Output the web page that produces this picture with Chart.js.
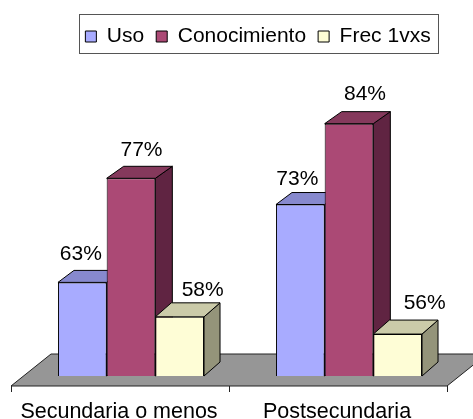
<!DOCTYPE html>
<html>
<head>
<meta charset="utf-8">
<style>
    html, body { margin: 0; padding: 0; background: #fff; }
    canvas { display: block; }
</style>
<script src="https://cdn.jsdelivr.net/npm/chart.js@4"></script>
</head>
<body>
<canvas id="chart" width="473" height="419"></canvas>
<script>
let categories = ["Secundaria o menos", "Postsecundaria"]
let uso = [63, 73.4]
let conocimiento = [76.9, 84.2]
let frec = [58.4, 56.1]

let axisMin = 50.5
let axisMax = 93.1
let fontName = '"Liberation Sans", Arial, sans-serif'
let fontSize = 21

//fake 3d faces of one bar
let drawFaces = (ctx, bar, ds) => {
    let right = bar.x + bar.width / 2
    let left = bar.x - bar.width / 2
    ctx.fillStyle = ds.sideColor
    ctx.beginPath()
    ctx.moveTo(right, bar.y)
    ctx.lineTo(right + ds.depthX, bar.y - ds.depthY)
    ctx.lineTo(right + ds.depthX, bar.base - ds.depthY)
    ctx.lineTo(right, bar.base)
    ctx.closePath()
    ctx.fill()
    ctx.stroke()
    ctx.fillStyle = ds.topColor
    ctx.beginPath()
    ctx.moveTo(left, bar.y)
    ctx.lineTo(left + ds.depthX, bar.y - ds.depthY)
    ctx.lineTo(right + ds.depthX, bar.y - ds.depthY)
    ctx.lineTo(right, bar.y)
    ctx.closePath()
    ctx.fill()
    ctx.stroke()
}

let drawFloor = (chart) => {
    let ctx = chart.ctx
    let area = chart.chartArea
    let frontY = area.bottom + 10
    let backY = area.bottom - 22
    ctx.strokeStyle = "#222"
    ctx.lineWidth = 1
    ctx.fillStyle = "#969696"
    ctx.beginPath()
    ctx.moveTo(area.left - 11, frontY)
    ctx.lineTo(area.left + 29, backY)
    ctx.lineTo(area.right + 29, backY)
    ctx.lineTo(area.right - 11, frontY)
    ctx.closePath()
    ctx.fill()
    ctx.stroke()
    ;[area.left, (area.left + area.right) / 2, area.right].forEach(x => {
        ctx.beginPath()
        ctx.moveTo(Math.round(x - 11) + 0.5, frontY)
        ctx.lineTo(Math.round(x - 11) + 0.5, frontY + 6)
        ctx.stroke()
    })
}

//chart.js paints the first dataset last, here they have to go left to right
let box3d = {
    id: "box3d",
    afterLayout(chart) {
        //centre of the legend frame, wide enough so the items stay on one line
        chart.legend.left = 58
        chart.legend.right = 458
    },
    beforeDraw(chart) {
        let ctx = chart.ctx
        ctx.save()
        ctx.strokeStyle = "#555"
        ctx.lineWidth = 1
        ctx.strokeRect(79.5, 14.5, 359, 39)
        ctx.restore()
    },
    beforeDatasetsDraw(chart) {
        let ctx = chart.ctx
        ctx.save()
        drawFloor(chart)
        chart.data.datasets.forEach((ds, i) => {
            chart.getDatasetMeta(i).data.forEach(bar => {
                ctx.strokeStyle = "#000"
                ctx.lineWidth = 1
                drawFaces(ctx, bar, ds)
                bar.draw(ctx)
            })
        })
        ctx.restore()
        return false
    },
    afterDraw(chart) {
        let ctx = chart.ctx
        ctx.save()
        ctx.fillStyle = "#000"
        ctx.font = fontSize + "px " + fontName
        ctx.textAlign = "center"
        ctx.textBaseline = "middle"
        chart.data.datasets.forEach((ds, i) => {
            chart.getDatasetMeta(i).data.forEach((bar, j) => {
                let nudge = ds.labelNudge[j]
                ctx.fillText(Math.round(ds.data[j]) + "%", bar.x + nudge[0], bar.y + nudge[1])
            })
        })
        ctx.restore()
    }
}

new Chart("chart", {
    type: "bar",
    data: {
        labels: categories,
        datasets: [{
            label: "Uso",
            data: uso,
            backgroundColor: "#A8ABFF",
            topColor: "#8789CE",
            sideColor: "#6A6CA6",
            depthX: 16,
            depthY: 12,
            labelNudge: [[-1.5, -28], [-3, -25]]
        }, {
            label: "Conocimiento",
            data: conocimiento,
            backgroundColor: "#AB4975",
            topColor: "#85395C",
            sideColor: "#602442",
            depthX: 17,
            depthY: 12,
            labelNudge: [[10.5, -28], [16, -29]]
        }, {
            label: "Frec 1vxs",
            data: frec,
            backgroundColor: "#FEFDD6",
            topColor: "#CBCBA9",
            sideColor: "#94947A",
            depthX: 16,
            depthY: 14,
            labelNudge: [[23, -27], [27, -31]]
        }]
    },
    options: {
        responsive: false,
        animation: false,
        datasets: {
            bar: {
                base: axisMin,
                categoryPercentage: 0.67,
                barPercentage: 1,
                borderColor: "#000",
                borderWidth: 1
            }
        },
        layout: { padding: { top: 14, left: 22, right: 15, bottom: 0 } },
        scales: {
            x: {
                grid: { display: false },
                border: { display: false },
                ticks: {
                    color: "#000",
                    font: { family: fontName, size: 21.5 },
                    padding: 15,
                    labelOffset: -12,
                    maxRotation: 0,
                    autoSkip: false
                },
                afterFit: scale => { scale.height = 43 }
            },
            y: { display: false, min: axisMin, max: axisMax }
        },
        plugins: {
            legend: {
                position: "top",
                labels: {
                    boxWidth: 11,
                    boxHeight: 11,
                    padding: 12,
                    color: "#000",
                    font: { family: fontName, size: fontSize }
                }
            },
            tooltip: { enabled: false }
        }
    },
    plugins: [box3d]
})
</script>
</body>
</html>
